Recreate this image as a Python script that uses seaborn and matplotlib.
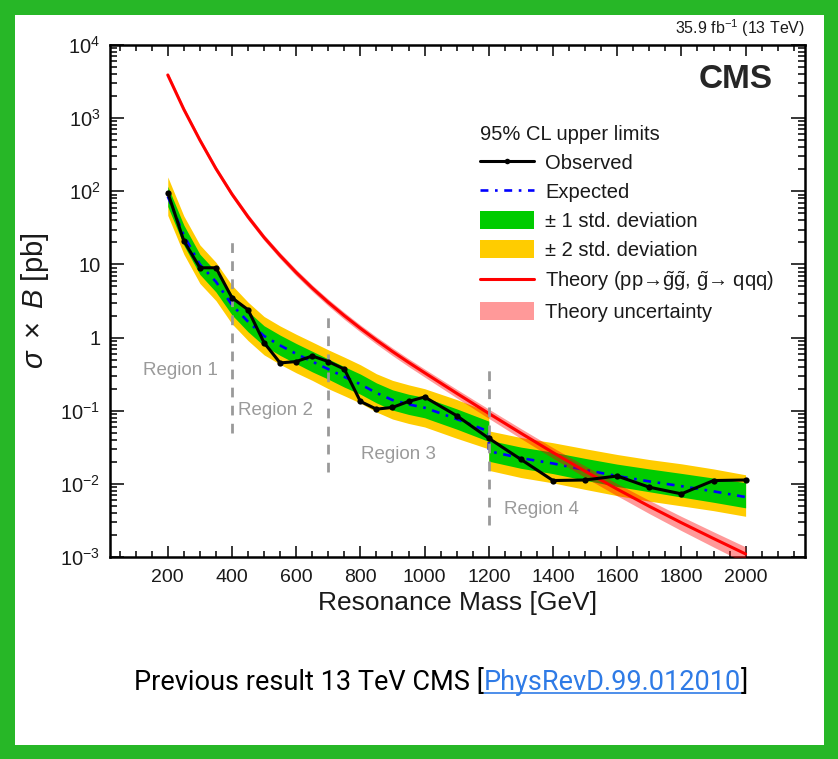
import matplotlib
matplotlib.use("Agg")
import pandas as pd
import seaborn as sns
import matplotlib.pyplot as plt
from matplotlib.lines import Line2D
from matplotlib.patches import Patch, Rectangle
from matplotlib.ticker import FixedLocator, FixedFormatter, MultipleLocator, LogLocator, NullFormatter

# ---- observed 95% CL upper limits [pb] ----
obs_mass = [200, 250, 300, 350, 400, 450, 500, 550, 600, 650, 700, 750, 800, 850, 900, 950,
            1000, 1100, 1200, 1300, 1400, 1500, 1600, 1700, 1800, 1900, 2000]
obs_limit = [96, 21, 9.0, 9.0, 3.5, 2.4, 0.85, 0.45, 0.47, 0.56, 0.47, 0.37, 0.134, 0.105, 0.111, 0.134,
             0.154, 0.0855, 0.042, 0.0216, 0.0111, 0.0113, 0.0128, 0.009, 0.0073, 0.0111, 0.0113]

# ---- expected limits and bands (two entries at 1200 GeV: end of region 3, start of region 4) ----
exp_mass = [200, 250, 300, 350, 400, 450, 500, 550, 600, 650, 700, 750, 800, 850, 900, 950,
            1000, 1100, 1200, 1200, 1300, 1400, 1500, 1600, 1700, 1800, 1900, 2000]
exp_limit = [85, 25, 10, 5.8, 2.8, 1.65, 1.05, 0.78, 0.6, 0.47, 0.37, 0.29, 0.23, 0.175, 0.14, 0.122,
             0.11, 0.077, 0.052, 0.028, 0.0225, 0.019, 0.0155, 0.0128, 0.0108, 0.0093, 0.0079, 0.0066]
exp_m2 = [46.8, 13.8, 5.5, 3.2, 1.54, 0.91, 0.58, 0.43, 0.33, 0.26, 0.2, 0.16, 0.127, 0.096, 0.077, 0.067,
          0.06, 0.042, 0.03, 0.0153, 0.0122, 0.0103, 0.0084, 0.0069, 0.0058, 0.005, 0.0043, 0.0036]
exp_m1 = [62, 18.3, 7.3, 4.2, 2.04, 1.2, 0.77, 0.57, 0.44, 0.34, 0.27, 0.21, 0.168, 0.128, 0.102, 0.089,
          0.08, 0.056, 0.038, 0.0204, 0.0163, 0.0138, 0.0112, 0.0092, 0.0078, 0.0066, 0.0056, 0.0047]
exp_p1 = [117, 34.5, 13.8, 8.0, 3.86, 2.28, 1.45, 1.08, 0.83, 0.65, 0.51, 0.4, 0.317, 0.24, 0.193, 0.168,
          0.152, 0.106, 0.072, 0.0395, 0.0318, 0.0271, 0.0223, 0.0186, 0.016, 0.0139, 0.012, 0.0104]
exp_p2 = [157, 46, 18.5, 10.7, 5.2, 3.05, 1.94, 1.44, 1.11, 0.87, 0.68, 0.54, 0.425, 0.32, 0.26, 0.226,
          0.2, 0.142, 0.096, 0.053, 0.043, 0.0365, 0.0302, 0.0252, 0.0215, 0.0188, 0.016, 0.0133]

# ---- gluino pair production cross section [pb] and relative uncertainty ----
theory_mass = [200, 250, 300, 350, 400, 450, 500, 550, 600, 650, 700, 750, 800, 850, 900, 950,
               1000, 1100, 1200, 1300, 1400, 1500, 1600, 1700, 1800, 1900, 2000]
theory_xsec = [3890, 1318, 501, 204, 91.2, 44.7, 23.4, 13.2, 7.76, 4.76, 3.03, 1.99, 1.34, 0.920, 0.644,
               0.458, 0.330, 0.173, 0.0918, 0.0493, 0.0268, 0.0149, 0.00847, 0.00493, 0.00294, 0.00179,
               0.00110]
theory_unc = [0.08, 0.08, 0.08, 0.08, 0.085, 0.09, 0.09, 0.095, 0.1, 0.1, 0.105, 0.11, 0.11, 0.115, 0.12,
              0.122, 0.125, 0.135, 0.145, 0.155, 0.165, 0.18, 0.19, 0.205, 0.22, 0.235, 0.25]

# ---- search regions ----
region_edges = [400, 700, 1200]
region_names = ["Region 1", "Region 2", "Region 3", "Region 4"]

y_tick_values = [1e-3, 1e-2, 1e-1, 1, 10, 1e2, 1e3, 1e4]
y_tick_labels = [r"$10^{-3}$", r"$10^{-2}$", r"$10^{-1}$", "1", "10", r"$10^{2}$", r"$10^{3}$", r"$10^{4}$"]
x_tick_values = [200, 400, 600, 800, 1000, 1200, 1400, 1600, 1800, 2000]

obs_df = pd.DataFrame({"mass": obs_mass, "limit": obs_limit})
exp_df = pd.DataFrame({"mass": exp_mass, "limit": exp_limit, "m2": exp_m2, "m1": exp_m1,
                       "p1": exp_p1, "p2": exp_p2})
th_df = pd.DataFrame({"mass": theory_mass, "xsec": theory_xsec, "unc": theory_unc})
th_df["lo"] = th_df["xsec"] * (1 - th_df["unc"])
th_df["hi"] = th_df["xsec"] * (1 + th_df["unc"])

sns.set_theme(style="ticks")
plt.rcParams["font.family"] = ["Liberation Sans", "DejaVu Sans"]
plt.rcParams["mathtext.fontset"] = "custom"
plt.rcParams["mathtext.rm"] = "Liberation Sans"
plt.rcParams["mathtext.it"] = "Liberation Sans:italic"
plt.rcParams["mathtext.bf"] = "Liberation Sans:bold"
plt.rcParams["mathtext.sf"] = "Liberation Sans"

W, H = 838, 759
fig = plt.figure(figsize=(W / 100, H / 100), dpi=100, facecolor="#27b727")
fig.add_artist(Rectangle((15 / W, 14 / H), (824 - 15) / W, (744 - 14) / H, transform=fig.transFigure,
                         facecolor="white", edgecolor="none", zorder=0))

ax = fig.add_axes([110 / W, 1 - 557 / H, 695 / W, 512 / H])
ax.set_facecolor("white")
ax.set_yscale("log")

GREEN = "#00cc00"
YELLOW = "#ffcc00"
EXP_STYLE = (0, (3, 2.5, 1, 2.5))

ax.fill_between(exp_df["mass"], exp_df["m2"], exp_df["p2"], color=YELLOW, lw=0, zorder=1)
ax.fill_between(exp_df["mass"], exp_df["m1"], exp_df["p1"], color=GREEN, lw=0, zorder=2)
sns.lineplot(data=exp_df, x="mass", y="limit", ax=ax, estimator=None, sort=False, color="#0000ff",
             lw=1.9, linestyle=EXP_STYLE, zorder=3, legend=False)

ax.fill_between(th_df["mass"], th_df["lo"], th_df["hi"], color="red", alpha=0.4, lw=0, zorder=4)
sns.lineplot(data=th_df, x="mass", y="xsec", ax=ax, estimator=None, color="red", lw=2.2,
             zorder=5, legend=False)

# region separators and names
edge_lo = [0.05, 0.0146, 0.00275]
edge_hi = [20, 2.07, 0.44]
for xe, lo, hi in zip(region_edges, edge_lo, edge_hi):
    ax.plot([xe, xe], [lo, hi], color="#999999", lw=2, ls=(0, (3.5, 3)), zorder=5.5)
name_pos = [(240, 0.35), (536, 0.1), (918, 0.025), (1363, 0.0044)]
for name, (xp, yp) in zip(region_names, name_pos):
    ax.text(xp, yp, name, color="#9a9a9a", fontsize=13.5, ha="center", va="center", zorder=5.5)

sns.lineplot(data=obs_df, x="mass", y="limit", ax=ax, estimator=None, color="black", lw=2.2,
             marker="o", markersize=4.5, markeredgewidth=0, zorder=6, legend=False)

ax.set_xlim(20, 2185)
ax.set_ylim(1e-3, 1e4)

ax.xaxis.set_major_locator(FixedLocator(x_tick_values))
ax.xaxis.set_minor_locator(MultipleLocator(50))
ax.yaxis.set_major_locator(FixedLocator(y_tick_values))
ax.yaxis.set_major_formatter(FixedFormatter(y_tick_labels))
ax.yaxis.set_minor_locator(LogLocator(base=10, subs=range(2, 10), numticks=20))
ax.yaxis.set_minor_formatter(NullFormatter())

ax.tick_params(axis="both", which="both", direction="in", top=True, right=True, colors="black",
               labelcolor="#1a1a1a", width=1.1)
ax.tick_params(axis="x", which="major", length=8, labelsize=14, pad=9)
ax.tick_params(axis="x", which="minor", length=4)
ax.tick_params(axis="y", which="major", length=10, labelsize=14.5, pad=7)
ax.tick_params(axis="y", which="minor", length=5)
for s in ax.spines.values():
    s.set_linewidth(1.8)
    s.set_color("black")

ax.set_xlabel("Resonance Mass [GeV]", fontsize=19, color="#1a1a1a")
ax.set_ylabel(r"$\sigma\ \times\ B$ [pb]", fontsize=21, color="#1a1a1a")
ax.xaxis.set_label_coords(0.5, -(603 - 557) / 512)
ax.xaxis.label.set_va("center")
ax.yaxis.set_label_coords(-(110 - 35) / 695, 0.5)
ax.yaxis.label.set_va("center")

ax.text(0.954, 0.932, "CMS", transform=ax.transAxes, fontsize=24, fontweight="bold",
        ha="right", va="center", zorder=7)
ax.text(1.0, 1.012, r"35.9 fb$^{-1}$ (13 TeV)", transform=ax.transAxes, fontsize=11.5,
        ha="right", va="bottom", color="#1a1a1a")

handles = [
    Line2D([], [], color="black", lw=2.2, marker="o", markersize=4, markeredgewidth=0),
    Line2D([], [], color="#0000ff", lw=1.9, linestyle=EXP_STYLE),
    Patch(facecolor=GREEN, edgecolor="none"),
    Patch(facecolor=YELLOW, edgecolor="none"),
    Line2D([], [], color="red", lw=2.2),
    Patch(facecolor="red", alpha=0.4, edgecolor="none"),
]
labels = [
    "Observed",
    "Expected",
    "\u00b1 1 std. deviation",
    "\u00b1 2 std. deviation",
    r"Theory (pp→$\tilde{\mathrm{g}}\tilde{\mathrm{g}}$, $\tilde{\mathrm{g}}$→ qqq)",
    "Theory uncertainty",
]
fs_leg = 14.5
pad = 0.62
pad_px = pad * fs_leg * 100 / 72
leg = ax.legend(handles, labels, title="95% CL upper limits", loc="upper left",
                bbox_to_anchor=((480 - pad_px - 110) / 695, (557 - 125 + pad_px) / 512),
                frameon=False, fontsize=fs_leg, title_fontsize=fs_leg, handlelength=2.7,
                handleheight=1.0, labelspacing=0.45, handletextpad=0.55, borderpad=pad,
                borderaxespad=0, alignment="left")
for t in leg.get_texts():
    t.set_color("#1a1a1a")
leg.get_title().set_color("#1a1a1a")

# caption below the plot with a link-styled reference
cap_family = ["Liberation Sans Narrow", "Roboto", "DejaVu Sans"]
parts = [("Previous result 13 TeV CMS [", "black"), ("PhysRevD.99.012010", "#2f7be6"), ("]", "black")]
renderer = fig.canvas.get_renderer()
base_size = 20
texts = [fig.text(0, 0, p, color=c, fontsize=base_size, family=cap_family) for p, c in parts]
total = sum(t.get_window_extent(renderer).width for t in texts)
size = base_size * 614 / total
for t in texts:
    t.set_fontsize(size)
widths = [t.get_window_extent(renderer).width for t in texts]
x = 441 - sum(widths) / 2
y_base = 690
for t, w in zip(texts, widths):
    t.set_position((x / W, (H - y_base) / H))
    t.set_va("baseline")
    x += w
ux0 = (441 - sum(widths) / 2 + widths[0]) / W
ux1 = ux0 + widths[1] / W
fig.add_artist(Line2D([ux0, ux1], [(H - y_base - 3) / H] * 2, transform=fig.transFigure,
                      color="#2f7be6", lw=1.2))

fig.savefig("out.png", dpi=100, facecolor=fig.get_facecolor())
